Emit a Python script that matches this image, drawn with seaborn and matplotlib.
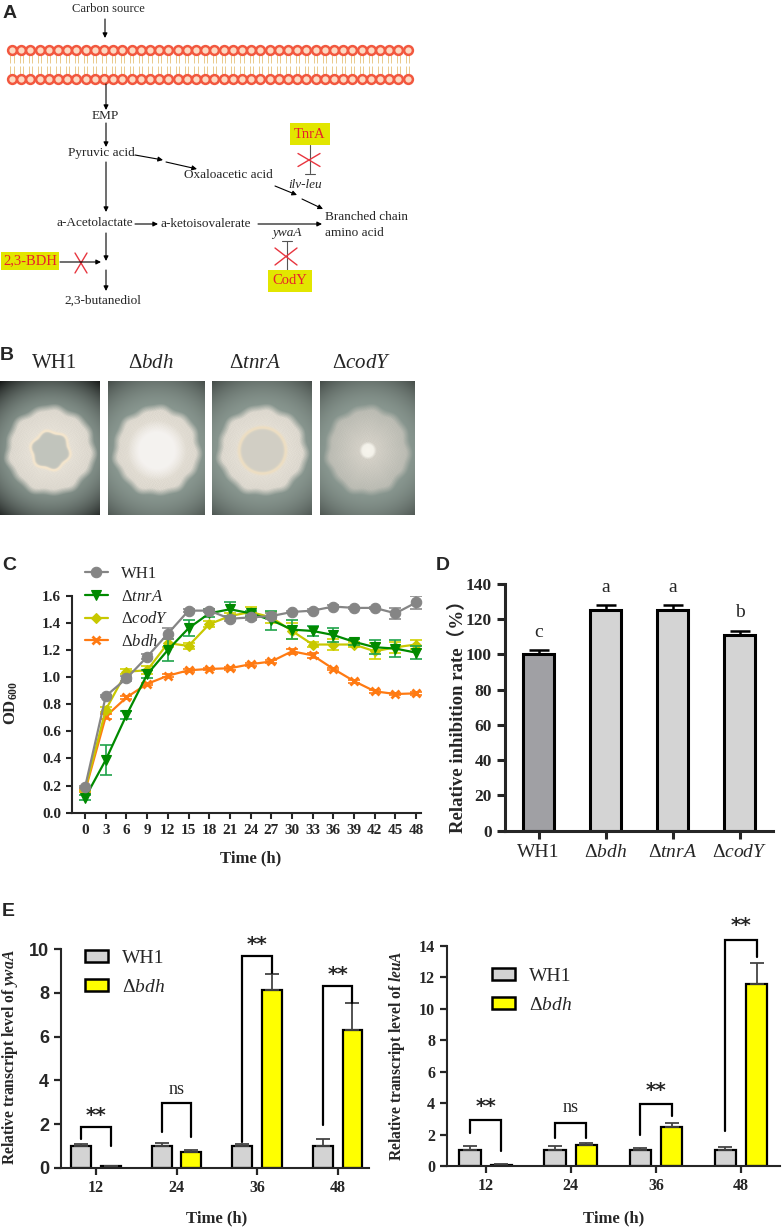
import numpy as np
import pandas as pd
import matplotlib
matplotlib.use("Agg")
import matplotlib.pyplot as plt
import seaborn as sns
from matplotlib.patches import Patch
from matplotlib.collections import LineCollection

# ---------------- data ----------------
time_h = [0, 3, 6, 9, 12, 15, 18, 21, 24, 27, 30, 33, 36, 39, 42, 45, 48]
od_wh1 = [0.19, 0.86, 0.99, 1.15, 1.32, 1.49, 1.49, 1.43, 1.44, 1.45, 1.48, 1.49, 1.52, 1.51, 1.51, 1.47, 1.55]
od_wh1_sd = [0.01, 0.01, 0.02, 0.02, 0.04, 0.01, 0.01, 0.02, 0.02, 0.02, 0.01, 0.01, 0.01, 0.01, 0.01, 0.04, 0.05]
od_tnra = [0.11, 0.39, 0.72, 1.02, 1.20, 1.36, 1.47, 1.50, 1.47, 1.42, 1.35, 1.34, 1.31, 1.26, 1.22, 1.21, 1.18]
od_tnra_sd = [0.02, 0.11, 0.03, 0.03, 0.08, 0.06, 0.03, 0.05, 0.02, 0.07, 0.07, 0.04, 0.05, 0.02, 0.05, 0.06, 0.05]
od_cody = [0.17, 0.76, 1.04, 1.05, 1.25, 1.23, 1.39, 1.45, 1.48, 1.44, 1.34, 1.24, 1.24, 1.24, 1.19, 1.22, 1.24]
od_cody_sd = [0.01, 0.02, 0.02, 0.03, 0.03, 0.02, 0.02, 0.02, 0.04, 0.04, 0.06, 0.02, 0.04, 0.02, 0.06, 0.04, 0.03]
od_bdh = [0.16, 0.71, 0.85, 0.95, 1.01, 1.05, 1.06, 1.065, 1.095, 1.115, 1.19, 1.16, 1.06, 0.97, 0.895, 0.875, 0.88]
od_bdh_sd = [0.01, 0.02, 0.01, 0.01, 0.01, 0.01, 0.01, 0.01, 0.01, 0.01, 0.02, 0.02, 0.01, 0.01, 0.01, 0.01, 0.01]

inhib_strains = ["WH1", "bdh", "tnrA", "codY"]
inhib_rate = [100, 125, 125, 111]
inhib_sd = [2.5, 3.0, 3.0, 2.3]
inhib_letters = ["c", "a", "a", "b"]

qpcr_times = ["12", "24", "36", "48"]
ywaA_wh1 = [1.0, 1.0, 1.0, 1.0]
ywaA_wh1_sd = [0.10, 0.13, 0.08, 0.30]
ywaA_bdh = [0.08, 0.73, 8.14, 6.29]
ywaA_bdh_sd = [0.02, 0.10, 0.73, 1.25]
ywaA_sig = ["**", "ns", "**", "**"]

leuA_wh1 = [1.0, 1.0, 1.0, 1.0]
leuA_wh1_sd = [0.27, 0.27, 0.12, 0.23]
leuA_bdh = [0.085, 1.34, 2.48, 11.6]
leuA_bdh_sd = [0.03, 0.10, 0.28, 1.30]
leuA_sig = ["**", "ns", "**", "**"]

# ---------------- style ----------------
sns.set_style("ticks")
plt.rcParams["font.family"] = ["Liberation Serif", "Noto Sans CJK SC"]
plt.rcParams["mathtext.fontset"] = "custom"
plt.rcParams["mathtext.rm"] = "Liberation Serif"
plt.rcParams["mathtext.it"] = "Liberation Serif:italic"
plt.rcParams["mathtext.bf"] = "Liberation Serif:bold"
plt.rcParams["mathtext.bfit"] = "Liberation Serif:italic:bold"
plt.rcParams["axes.linewidth"] = 1.5
plt.rcParams["xtick.major.width"] = 1.5
plt.rcParams["ytick.major.width"] = 1.5
plt.rcParams["xtick.major.size"] = 4.5
plt.rcParams["ytick.major.size"] = 4.5

W, H = 782, 1227
fig = plt.figure(figsize=(W / 100, H / 100), dpi=100)


def box(l, t, r, b):
    return [l / W, 1 - b / H, (r - l) / W, (b - t) / H]


def P(x, y):
    return (x / W, 1 - y / H)


# overlay in pixel coordinates for the pathway sketch and labels
ov = fig.add_axes([0, 0, 1, 1])
ov.set_xlim(0, W)
ov.set_ylim(H, 0)
ov.axis("off")

# ---------------- panel A ----------------
red_txt = "#E8202A"
yellow_box = "#E2E600"
fs_a = 9.5


def arrow(x0, y0, x1, y1):
    ov.annotate("", xy=(x1, y1), xytext=(x0, y0),
                arrowprops=dict(arrowstyle="-|>", color="black", lw=0.8,
                                mutation_scale=7, shrinkA=0, shrinkB=0))


def cross(cx, cy, dx, dy):
    ov.plot([cx - dx, cx + dx], [cy - dy, cy + dy], color="#E8353F", lw=1.0)
    ov.plot([cx - dx, cx + dx], [cy + dy, cy - dy], color="#E8353F", lw=1.0)


def red_box(x, y, s, pad=0.32):
    ov.text(x, y, s, ha="center", va="center", fontsize=10.5, color=red_txt,
            bbox=dict(boxstyle=f"square,pad={pad}", facecolor=yellow_box, edgecolor="none"))


ov.text(108, 9, "Carbon source", ha="center", va="center", fontsize=9)
arrow(105, 19, 105, 38)

# membrane
heads_x = np.arange(12, 409, 9.2)
tails = []
for hx in heads_x:
    for off in (-1.6, 1.6):
        tails.append([(hx + off, 54), (hx + off, 63)])
        tails.append([(hx + off, 66), (hx + off, 75)])
ov.add_collection(LineCollection(tails, colors="#E6C27A", linewidths=0.6))
for hy in (50, 79):
    ov.scatter(heads_x, np.full(len(heads_x), hy), s=40, facecolor="#FCD9C2",
               edgecolor="#F2583F", linewidth=1.8, zorder=3)

arrow(106, 84, 106, 110)
ov.text(105, 116, "EMP", ha="center", va="center", fontsize=fs_a)
arrow(106, 123, 106, 147)
ov.text(101, 153, "Pyruvic acid", ha="center", va="center", fontsize=fs_a)
arrow(135, 155, 163, 160)
arrow(166, 162, 197, 169)
ov.text(228, 175, "Oxaloacetic acid", ha="center", va="center", fontsize=fs_a)
arrow(106, 162, 106, 212)
ov.text(95, 223, "a-Acetolactate", ha="center", va="center", fontsize=fs_a)
arrow(135, 224, 158, 224)
ov.text(206, 224, "a-ketoisovalerate", ha="center", va="center", fontsize=fs_a)
arrow(258, 224, 322, 224)
ov.text(325, 217, "Branched chain", ha="left", va="center", fontsize=fs_a)
ov.text(325, 233, "amino acid", ha="left", va="center", fontsize=fs_a)
arrow(275, 186, 297, 195)
arrow(302, 199, 323, 209)
ov.text(305, 185, "ilv-leu", ha="center", va="center", fontsize=fs_a, style="italic")

red_box(310, 134, "TnrA")
ov.plot([310, 310], [145, 173], color="#555555", lw=0.8)
ov.plot([305, 315], [174, 174], color="#555555", lw=0.8)
cross(309, 160, 11, 6.5)

ov.text(287, 233, "ywaA", ha="center", va="center", fontsize=fs_a, style="italic")
ov.plot([282, 292], [241, 241], color="#555555", lw=0.8)
ov.plot([287, 287], [241, 272], color="#555555", lw=0.8)
cross(286, 256.5, 11, 8.5)
red_box(290, 281, "CodY")

arrow(106, 233, 106, 261)
arrow(106, 270, 106, 291)
red_box(30, 261, "2,3-BDH", pad=0.15)
arrow(60, 262, 101, 262)
cross(81, 263, 6, 10)
ov.text(103, 301, "2,3-butanediol", ha="center", va="center", fontsize=fs_a)

# ---------------- panel B (colony photos, sketched) ----------------


def colony(kind, w=99, h=134):
    yy, xx = np.mgrid[0:h, 0:w].astype(float)
    cx, cy = w / 2, h / 2 + 2
    dx, dy = xx - cx, yy - cy
    r = np.hypot(dx, dy)
    th = np.arctan2(dy, dx)
    corner = np.hypot(w / 2, h / 2)
    bg = np.array([0.58, 0.64, 0.61])
    k = 0.8 if kind == "WH1" else 0.5
    vign = np.clip(1 - k * (r / corner) ** 3, 0, 1)
    img = bg[None, None, :] * vign[..., None]
    grain = 0.018 * np.sin(xx * 2.3 + 2.0 * np.sin(yy * 0.7)) * np.sin(yy * 2.1 + 1.5 * np.sin(xx * 0.5))
    R = 46 * (1 + 0.02 * np.sin(7 * th) + 0.015 * np.sin(13 * th + 1.0))
    m = np.clip((R - r) / 7, 0, 1)
    white = np.array([0.93, 0.91, 0.87])
    col = white[None, None, :] * (0.92 + 0.08 * np.clip(1 - r / R, 0, 1))[..., None] + grain[..., None]
    if kind == "WH1":
        Ri = 19 * (1 + 0.06 * np.sin(6 * th))
        inner = np.clip((Ri - r) / 1.5, 0, 1)[..., None]
        ring = np.exp(-((r - Ri) / 1.6) ** 2)[..., None]
        col = col * (1 - inner) + np.array([0.76, 0.77, 0.74]) * inner
        col = col * (1 - ring) + np.array([0.96, 0.90, 0.80]) * ring
    elif kind == "tnrA":
        Ri = 23
        inner = np.clip((Ri - r) / 1.5, 0, 1)[..., None]
        ring = np.exp(-((r - Ri) / 1.8) ** 2)[..., None]
        col = col * (1 - inner) + np.array([0.82, 0.81, 0.77]) * inner
        col = col * (1 - ring) + np.array([0.93, 0.87, 0.76]) * ring
    elif kind == "codY":
        spot = np.clip((9 - r) / 3, 0, 1)[..., None]
        col = col * 0.92
        col = col * (1 - spot) + np.array([0.97, 0.96, 0.93]) * spot
        m = m * (0.7 + 0.3 * np.clip(1 - r / R, 0, 1))
    else:
        mid = np.clip((30 - r) / 12, 0, 1)[..., None]
        col = col * (1 - mid) + np.array([0.96, 0.95, 0.94]) * mid
    img = img * (1 - m[..., None]) + col * m[..., None]
    return np.clip(img, 0, 1)


photo_titles = ["WH1", "Δ$\\mathit{bdh}$", "Δ$\\mathit{tnrA}$", "Δ$\\mathit{codY}$"]
photo_kinds = ["WH1", "bdh", "tnrA", "codY"]
photo_x = [(0, 99), (108, 204), (212, 312), (320, 415)]
photo_tx = [55, 151, 255, 362]
for (l, r), tx, kind, title in zip(photo_x, photo_tx, photo_kinds, photo_titles):
    axp = fig.add_axes(box(l, 381, r, 515))
    axp.imshow(colony(kind), aspect="auto", interpolation="bilinear")
    axp.axis("off")
    fig.text(*P(tx, 364), title, ha="center", va="center", fontsize=15)

# ---------------- panel C ----------------
axC = fig.add_axes(box(72, 595.7, 421, 812.7))
c_series = [
    ("Δ$\\mathit{bdh}$", od_bdh, od_bdh_sd, "#FF7A12", "#FF7A12", "x", 5.5, 3),
    ("Δ$\\mathit{codY}$", od_cody, od_cody_sd, "#C8C800", "#D2D200", "D", 5.0, 4),
    ("Δ$\\mathit{tnrA}$", od_tnra, od_tnra_sd, "#008A00", "#1FA34A", "v", 7.0, 5),
    ("WH1", od_wh1, od_wh1_sd, "#858585", "#8C8C8C", "o", 7.5, 6),
]
for lab, vals, sd, col, ecol, mk, ms, z in c_series:
    axC.errorbar(time_h, vals, yerr=sd, fmt="none", ecolor=ecol, elinewidth=1.2,
                 capsize=4, capthick=1.2, zorder=z - 0.5)
    sns.lineplot(x=time_h, y=vals, color=col, marker=mk, markersize=ms,
                 markeredgecolor=col, markeredgewidth=2 if mk == "x" else 0.8,
                 linewidth=1.6, ax=axC, label=lab, zorder=z, clip_on=False)
axC.set_xlim(-1.9, 48.7)
axC.set_ylim(0, 1.6)
axC.set_xticks(time_h)
axC.set_xticklabels([str(t) for t in time_h], fontweight="bold", fontsize=11)
c_yt = [0.0, 0.2, 0.4, 0.6, 0.8, 1.0, 1.2, 1.4, 1.6]
axC.set_yticks(c_yt)
axC.set_yticklabels([f"{v:.1f}" for v in c_yt], fontweight="bold", fontsize=11)
axC.set_xlabel("")
axC.set_ylabel("")
sns.despine(ax=axC)
hd, lb = axC.get_legend_handles_labels()
order = [lb.index(n) for n in ["WH1", "Δ$\\mathit{tnrA}$", "Δ$\\mathit{codY}$", "Δ$\\mathit{bdh}$"]]
axC.legend([hd[i] for i in order], [lb[i] for i in order], loc="upper left",
           bbox_to_anchor=P(85, 566), bbox_transform=fig.transFigure,
           frameon=False, fontsize=12, handlelength=1.35, labelspacing=0.4,
           borderpad=0, borderaxespad=0, handletextpad=0.8)
fig.text(*P(11, 703), "OD$_{\\mathbf{600}}$", rotation=90, ha="center", va="center",
         fontsize=12, fontweight="bold")
fig.text(*P(251, 858), "Time (h)", ha="center", va="center", fontsize=12, fontweight="bold")

# ---------------- panel D ----------------
axD = fig.add_axes(box(505, 584, 773, 830.7))
sns.barplot(x=inhib_strains, y=inhib_rate, hue=inhib_strains,
            palette=["#A0A0A4", "#D4D4D4", "#D4D4D4", "#D4D4D4"], width=0.47,
            saturation=1, edgecolor="black", linewidth=2.2, legend=False, ax=axD)
d_x = [b.get_x() + b.get_width() / 2 for b in axD.patches]
d_h = [b.get_height() for b in axD.patches]
axD.errorbar(d_x, d_h, yerr=[np.zeros(len(inhib_sd)), inhib_sd], fmt="none",
             ecolor="black", elinewidth=1.8, capsize=7, capthick=1.8, zorder=1)
for xx, hh, sd, let in zip(d_x, d_h, inhib_sd, inhib_letters):
    axD.annotate(let, (xx, hh + sd), xytext=(0, 13), textcoords="offset points",
                 ha="center", va="center", fontsize=14)
axD.set_xlim(-0.5, 3.5)
axD.set_ylim(0, 140)
axD.set_yticks(range(0, 141, 20))
axD.set_yticklabels([str(v) for v in range(0, 141, 20)], fontweight="bold", fontsize=12.5)
axD.set_xticks(range(4))
axD.set_xticklabels(["WH1", "Δ$\\mathit{bdh}$", "Δ$\\mathit{tnrA}$", "Δ$\\mathit{codY}$"], fontsize=14)
axD.tick_params(width=2.2, length=6)
for s in axD.spines.values():
    s.set_linewidth(2.2)
axD.set_xlabel("")
axD.set_ylabel("")
sns.despine(ax=axD)
fig.text(*P(458, 712), "Relative inhibition rate（%）", rotation=90, ha="center",
         va="center", fontsize=13.5, fontweight="bold")

# ---------------- panel E ----------------


def qpcr_panel(rect, wh1, wh1_sd, bdh, bdh_sd, sig, ymax, ystep, xlim,
               brackets, lab_off, tick_family, tick_size, leg_anchor):
    ax = fig.add_axes(box(*rect))
    df = pd.DataFrame({
        "time": qpcr_times * 2,
        "strain": ["WH1"] * 4 + ["bdh"] * 4,
        "value": wh1 + bdh,
    })
    sns.barplot(data=df, x="time", y="value", hue="strain", hue_order=["WH1", "bdh"],
                palette=["#D3D3D3", "#FFFF00"], width=0.74, gap=0.33, saturation=1,
                edgecolor="black", linewidth=1.6, errorbar=None, legend=False, ax=ax)
    cents = []
    for cont, sd in zip(ax.containers, [wh1_sd, bdh_sd]):
        xs = [b.get_x() + b.get_width() / 2 for b in cont]
        hs = [b.get_height() for b in cont]
        ax.errorbar(xs, hs, yerr=[np.zeros(len(sd)), sd], fmt="none", ecolor="#444444",
                    elinewidth=1.3, capsize=5, capthick=1.3, zorder=1)
        cents.append(xs)
    for i, (top, lleg, rleg) in enumerate(brackets):
        x0, x1 = cents[0][i], cents[1][i]
        ax.plot([x0, x0, x1, x1], [lleg, top, top, rleg], color="black", lw=1.6,
                clip_on=False, solid_joinstyle="miter")
        if sig[i] == "**":
            ax.annotate("**", (0.5 * (x0 + x1), top), xytext=(0, lab_off),
                        textcoords="offset points", ha="center", va="center",
                        fontsize=14.5, fontweight="bold", family="DejaVu Sans",
                        annotation_clip=False)
        else:
            ax.annotate(sig[i], (0.5 * (x0 + x1), top), xytext=(0, lab_off + 1),
                        textcoords="offset points", ha="center", va="center",
                        fontsize=13, annotation_clip=False)
    ax.set_xlim(*xlim)
    ax.set_ylim(0, ymax)
    yt = list(range(0, ymax + 1, ystep))
    ax.set_yticks(yt)
    ax.set_yticklabels([str(v) for v in yt], fontweight="bold", fontsize=tick_size,
                       family=tick_family)
    ax.set_xticks(range(4))
    ax.set_xticklabels(qpcr_times, fontweight="bold", fontsize=11.5)
    ax.tick_params(width=1.6, length=5)
    ax.set_xlabel("")
    ax.set_ylabel("")
    sns.despine(ax=ax)
    handles = [Patch(facecolor="#D3D3D3", edgecolor="black", linewidth=1.8),
               Patch(facecolor="#FFFF00", edgecolor="black", linewidth=1.8)]
    ax.legend(handles, ["WH1", "Δ$\\mathit{bdh}$"], loc="upper left",
              bbox_to_anchor=P(*leg_anchor), bbox_transform=fig.transFigure,
              frameon=False, fontsize=14, handlelength=1.2, handleheight=0.6,
              labelspacing=0.6, borderpad=0, borderaxespad=0, handletextpad=0.7)
    return ax


axE1 = qpcr_panel((61, 949.3, 369, 1167.7), ywaA_wh1, ywaA_wh1_sd, ywaA_bdh, ywaA_bdh_sd,
                  ywaA_sig, 10, 2, (-0.434, 3.39),
                  [(1.85, 1.3, 1.0), (2.98, 1.65, 1.42), (9.7, 1.19, 8.93), (8.3, 1.95, 7.53)],
                  8.5, "Liberation Sans", 13, (85, 950))
axE2 = qpcr_panel((447, 946, 780, 1166), leuA_wh1, leuA_wh1_sd, leuA_bdh, leuA_bdh_sd,
                  leuA_sig, 14, 2, (-0.455, 3.46),
                  [(2.93, 2.08, 0.98), (2.76, 1.8, 1.8), (3.95, 1.97, 3.2), (14.4, 2.25, 13.3)],
                  10, "Liberation Serif", 11.5, (492, 968))
fig.text(*P(10, 1057), "Relative transcript level of $\\mathbfit{ywaA}$", rotation=90,
         ha="center", va="center", fontsize=11.2, fontweight="bold")
fig.text(*P(397, 1056), "Relative transcript level of $\\mathbfit{leuA}$", rotation=90,
         ha="center", va="center", fontsize=11.2, fontweight="bold")
fig.text(*P(217, 1218), "Time (h)", ha="center", va="center", fontsize=12, fontweight="bold")
fig.text(*P(614, 1218), "Time (h)", ha="center", va="center", fontsize=12, fontweight="bold")

# ---------------- panel letters ----------------
for let, (x, y) in zip("ABCDE", [(10, 13.5), (7, 356), (9, 566), (443, 566), (8, 912)]):
    fig.text(*P(x, y), let, ha="center", va="center", fontsize=14,
             fontweight="bold", family="Liberation Sans")

fig.savefig("out.png", dpi=100)
